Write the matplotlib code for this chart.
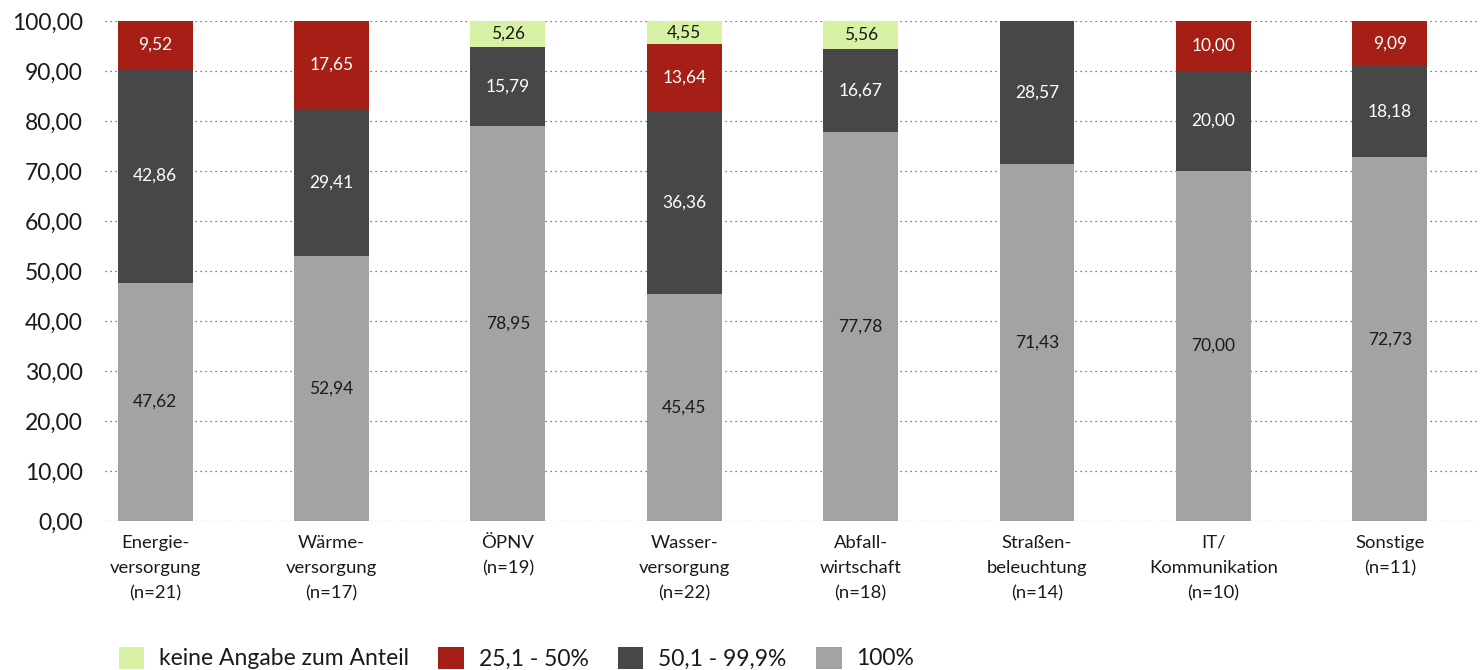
import numpy as np
import matplotlib
matplotlib.use('Agg')
from matplotlib import pyplot as plt

plt.rcParams['font.family'] = ['Lato', 'DejaVu Sans']

categories = ['Energie-\nversorgung\n(n=21)', 'Wärme-\nversorgung\n(n=17)', 'ÖPNV\n(n=19)',
              'Wasser-\nversorgung\n(n=22)', 'Abfall-\nwirtschaft\n(n=18)', 'Straßen-\nbeleuchtung\n(n=14)',
              'IT/\nKommunikation\n(n=10)', 'Sonstige\n(n=11)']

full = [47.62, 52.94, 78.95, 45.45, 77.78, 71.43, 70.00, 72.73]
high = [42.86, 29.41, 15.79, 36.36, 16.67, 28.57, 20.00, 18.18]
mid = [9.52, 17.65, 0, 13.64, 0, 0, 10.00, 9.09]
no_info = [0, 0, 5.26, 4.55, 5.56, 0, 0, 0]

series = [
    ('100%', full, '#a3a3a3', '#1a1a1a'),
    ('50,1 - 99,9%', high, '#474747', 'white'),
    ('25,1 - 50%', mid, '#a61f17', 'white'),
    ('keine Angabe zum Anteil', no_info, '#d8f2a5', '#1a1a1a'),
]

fig = plt.figure(figsize=(14.83, 6.70), dpi=100)
ax = fig.add_axes([0.0708, 0.2224, 0.9258, 0.7463])

x = np.arange(len(categories))
bottom = np.zeros(len(categories))
handles = {}
for name, vals, color, txt_color in series:
    vals = np.array(vals, dtype=float)
    bars = ax.bar(x, vals, 0.425, bottom=bottom, color=color, zorder=2, label=name)
    handles[name] = bars
    for xi, b, v in zip(x, bottom, vals):
        if v > 0:
            ax.text(xi, b + v / 2, f'{v:.2f}'.replace('.', ','), ha='center', va='center',
                    color=txt_color, fontsize=12.5, zorder=3)
    bottom += vals

ax.set_xlim(-0.284, 7.5)
ax.set_ylim(0, 100)
ax.set_yticks(np.arange(0, 101, 10))
ax.set_yticklabels([f'{v:.2f}'.replace('.', ',') for v in np.arange(0, 101, 10)], fontsize=16.5, color='#1a1a1a')
ax.set_xticks(x)
ax.set_xticklabels(categories, fontsize=13.3, color='#1a1a1a', linespacing=1.72)
ax.tick_params(axis='y', length=0, pad=16)
ax.tick_params(axis='x', length=0, pad=10)
ax.grid(axis='y', linestyle=(0, (1, 3)), color='#555555', linewidth=0.9, zorder=1)
for s in ax.spines.values():
    s.set_visible(False)

order = ['keine Angabe zum Anteil', '25,1 - 50%', '50,1 - 99,9%', '100%']
fig.legend([handles[k] for k in order], order, loc='lower left', bbox_to_anchor=(0.066, -0.03),
           ncol=4, frameon=False, fontsize=16.5, handlelength=1.1, handleheight=1.1,
           handletextpad=0.65, columnspacing=1.3, labelcolor='#1a1a1a')

fig.savefig('out.png', dpi=100)
